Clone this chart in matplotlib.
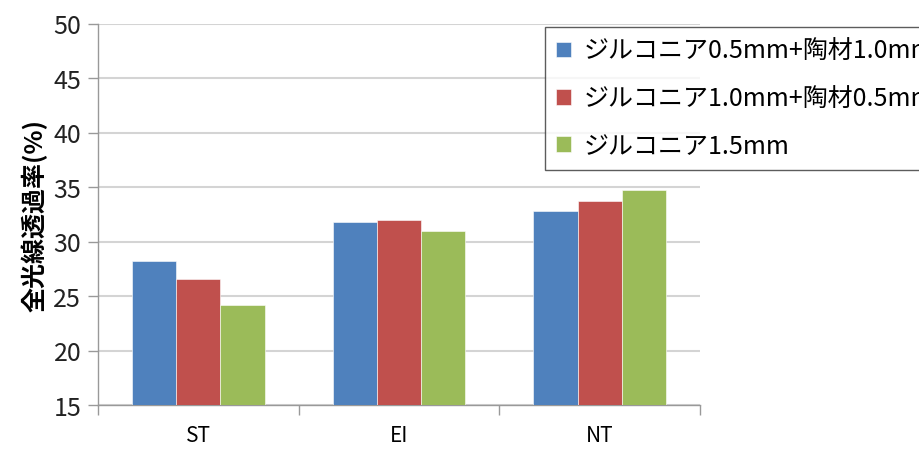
import matplotlib
matplotlib.use("Agg")
import matplotlib.pyplot as plt
import numpy as np

plt.rcParams['font.family'] = ['Noto Sans CJK JP', 'DejaVu Sans']

categories = ["ST", "EI", "NT"]
series_names = ["ジルコニア0.5mm+陶材1.0mm", "ジルコニア1.0mm+陶材0.5mm", "ジルコニア1.5mm"]
zr05_porc10 = [28.2, 31.8, 32.8]
zr10_porc05 = [26.6, 32.0, 33.7]
zr15 = [24.2, 31.0, 34.7]
colors = ["#4F81BD", "#C0504D", "#9BBB59"]

fig = plt.figure(figsize=(9.19, 4.52), dpi=100)
ax = fig.add_axes([98 / 919, 1 - 406 / 452, (700 - 98) / 919, (406 - 24.5) / 452])

x = np.arange(len(categories))
width = 0.22
for i, (vals, name) in enumerate(zip([zr05_porc10, zr10_porc05, zr15], series_names)):
    ax.bar(x + (i - 1) * width, np.array(vals) - 15, width, bottom=15,
           color=colors[i], edgecolor="white", linewidth=0.4, label=name, zorder=3)

ax.set_ylim(15, 50)
ax.set_yticks(range(15, 51, 5))
ax.set_xlim(-0.5, 2.5)
ax.set_xticks(x)
ax.set_xticklabels(categories, fontsize=15)
ax.set_xticks([-0.5, 0.5, 1.5, 2.5], minor=True)
ax.tick_params(axis="x", which="major", length=0, pad=14)
ax.tick_params(axis="x", which="minor", length=7, color="#999999", width=1)
ax.tick_params(axis="y", length=7, color="#999999", width=1, labelsize=18, pad=5)
for lbl in ax.get_yticklabels():
    lbl.set_color("#222222")

ax.grid(axis="y", color="#d4d4d4", linewidth=1.5, zorder=0)
ax.set_axisbelow(True)
for s in ["top", "right"]:
    ax.spines[s].set_visible(False)
for s in ["left", "bottom"]:
    ax.spines[s].set_color("#999999")
    ax.spines[s].set_linewidth(1)

ax.set_ylabel("全光線透過率(%)", fontsize=18, fontweight="bold", labelpad=4)

# legend runs off the right edge, as in the source figure
fig.legend(loc="upper left", bbox_to_anchor=(545 / 919, 1 - 28 / 452),
           borderaxespad=0, fontsize=18, frameon=True, fancybox=False,
           edgecolor="#333333", handlelength=0.6, handleheight=0.6,
           labelspacing=0.85, borderpad=0.45, handletextpad=0.5)

fig.savefig("out.png", dpi=100)
